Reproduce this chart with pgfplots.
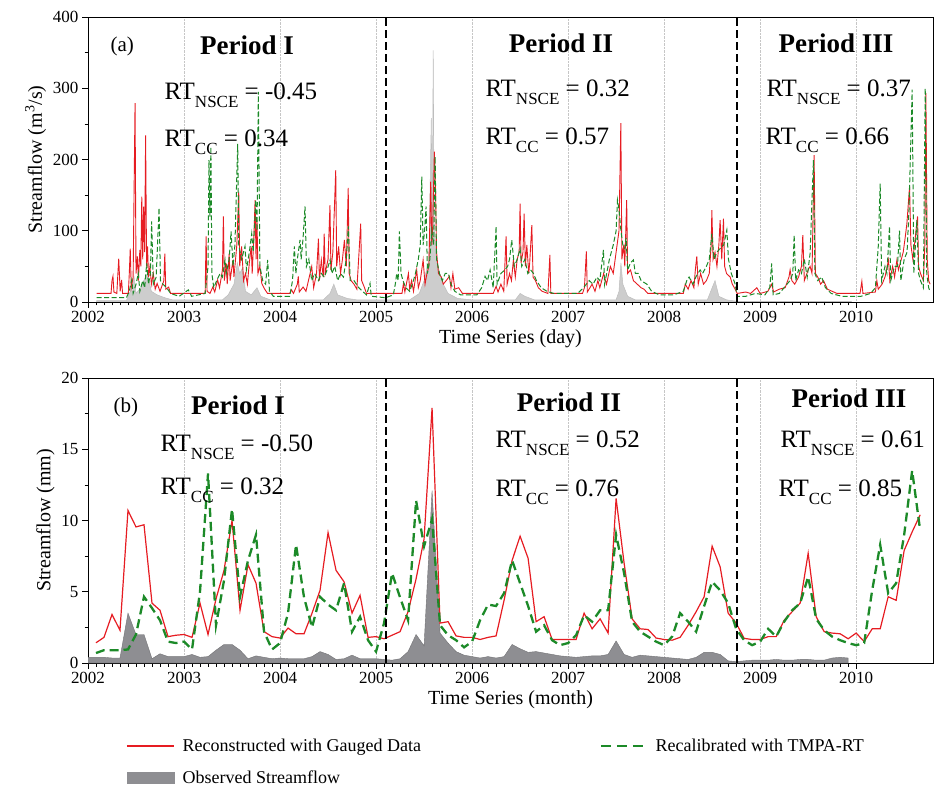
\documentclass[border=0pt]{standalone}
\usepackage{fontspec}
\setmainfont{Liberation Serif}
\usepackage{pgfplots}
\usepackage{pgfplotstable}
\pgfplotsset{compat=1.18}
\definecolor{myred}{RGB}{230,28,34}
\definecolor{mygreen}{RGB}{28,138,40}
\definecolor{obsgray}{RGB}{142,142,146}
\definecolor{lightobs}{RGB}{205,205,205}
\newcommand{\RT}[2]{\fontsize{25}{28}\selectfont RT\raisebox{-8pt}{\fontsize{17}{17}\selectfont #1} = #2}
\newcommand{\Per}[1]{\fontsize{27}{30}\selectfont\bfseries #1}
\pgfplotsset{
  redleg/.style={legend image code/.code={\draw[myred, line width=1.5pt] (0pt,0pt) -- (47pt,0pt);}},
  greenleg/.style={legend image code/.code={\draw[mygreen, line width=1.5pt, dash pattern=on 10pt off 6pt] (0pt,0pt) -- (46pt,0pt);}},
  grayleg/.style={legend image code/.code={\fill[obsgray] (0pt,-5pt) rectangle (47pt,6pt);}},
}

\pgfplotstableread{
k red green
1 1.42 0.7
2 1.8 0.9
3 3.4 0.9
4 2.3 0.9
5 10.7 0.95
6 9.55 2.0
7 9.7 4.65
8 4.2 3.85
9 3.7 3.0
10 1.85 1.5
11 1.95 1.4
12 2.0 1.5
13 1.8 0.95
14 4.2 5.0
15 2.0 13.3
16 4.5 2.65
17 6.5 5.8
18 10.0 10.8
19 3.7 4.65
20 6.9 7.2
21 5.6 9.0
22 2.2 2.2
23 1.85 0.95
24 1.75 1.4
25 2.45 3.5
26 2.05 8.3
27 2.05 4.6
28 3.5 2.5
29 5.1 4.65
30 9.15 4.1
31 6.5 3.7
32 5.7 5.6
33 3.5 2.2
34 4.75 3.25
35 1.8 1.6
36 1.85 0.8
37 1.7 2.8
38 1.95 6.3
39 2.2 4.6
40 3.6 3.0
41 5.9 11.4
42 8.7 8.2
43 17.9 10.1
44 2.8 2.65
45 2.9 1.95
46 1.9 1.6
47 1.8 1.1
48 1.8 1.5
49 1.65 3.0
50 1.8 4.1
51 1.9 4.0
52 4.4 4.9
53 7.2 7.2
54 8.9 5.6
55 7.35 4.0
56 2.9 2.2
57 3.25 2.65
58 1.65 1.6
59 1.65 1.25
60 1.65 1.4
61 1.65 1.95
62 3.5 3.35
63 2.4 2.9
64 3.1 3.7
65 2.1 3.7
66 11.55 9.0
67 7.0 6.3
68 3.1 2.9
69 2.4 2.2
70 2.35 1.85
71 1.75 1.5
72 1.65 1.25
73 1.6 1.85
74 1.8 3.5
75 2.65 2.9
76 3.6 2.2
77 4.65 4.0
78 8.2 5.7
79 6.75 5.1
80 3.5 4.2
81 2.8 2.4
82 1.73 1.6
83 1.65 1.25
84 1.65 1.5
85 1.85 2.4
86 1.85 1.85
87 3.0 2.9
88 3.6 3.7
89 4.2 4.2
90 7.7 6.05
91 3.25 3.1
92 2.2 2.3
93 2.1 1.85
94 2.05 1.6
95 1.7 1.4
96 2.1 1.25
97 1.5 1.4
98 2.4 5.1
99 2.4 8.3
100 4.65 4.9
101 4.4 5.6
102 7.9 9.0
103 9.2 13.5
104 10.4 9.3
}\monthly

\pgfplotstableread{
k obs
0 0.4
1 0.4
2 0.4
3 0.35
4 0.35
5 3.5
6 2.0
7 2.0
8 0.3
9 0.65
10 0.45
11 0.45
12 0.45
13 0.6
14 0.4
15 0.45
16 0.9
17 1.3
18 1.3
19 0.9
20 0.3
21 0.5
22 0.4
23 0.3
24 0.35
25 0.3
26 0.3
27 0.3
28 0.45
29 0.8
30 0.6
31 0.25
32 0.3
33 0.55
34 0.3
35 0.3
36 0.3
37 0.25
38 0.2
39 0.3
40 0.8
41 2.0
42 1.2
43 12.1
44 2.1
45 1.4
46 0.8
47 0.55
48 0.45
49 0.35
50 0.45
51 0.35
52 0.45
53 1.3
54 1.0
55 0.75
56 0.8
57 0.7
58 0.6
59 0.5
60 0.45
61 0.4
62 0.45
63 0.5
64 0.5
65 0.6
66 1.55
67 0.6
68 0.4
69 0.55
70 0.5
71 0.45
72 0.4
73 0.35
74 0.3
75 0.25
76 0.4
77 0.75
78 0.75
79 0.6
80 0.15
81 0.1
82 0.15
83 0.2
84 0.2
85 0.2
86 0.25
87 0.2
88 0.2
89 0.25
90 0.25
91 0.2
92 0.2
93 0.35
94 0.4
95 0.35
}\obsmonthly

\begin{document}
\begin{tikzpicture}[x=1pt,y=1pt]
\useasboundingbox (0,0) rectangle (935,788);
\pgfplotsset{
  mystyle/.style={
    scale only axis, width=845pt, height=285pt,
    xmin=2002, xmax=2010.8,
    xtick={2002,2003,2004,2005,2006,2007,2008,2009,2010},
    minor x tick num=11,
    minor y tick num=1,
    tick align=outside,
    tick pos=left,
    major tick length=6pt, minor tick length=3.5pt,
    xmajorgrids, major x grid style={densely dotted, gray!45},
    /pgf/number format/assume math mode=true,
    /pgf/number format/1000 sep={},
    tick label style={font=\fontsize{17}{20}\selectfont},
    label style={font=\fontsize{20}{24}\selectfont},
    axis line style={black, line width=0.8pt},
    every tick/.style={black, line width=0.7pt},
    clip=true,
  },
  vdash/.style={black, line width=2pt, dash pattern=on 8pt off 4pt, forget plot},
}
% ---------------- top panel (a) ----------------
\begin{axis}[mystyle, at={(88pt,486pt)}, anchor=south west,
  ymin=0, ymax=400, ytick={0,100,200,300,400},
  xlabel={Time Series (day)}, ylabel={Streamflow (m\textsuperscript{3}/s)}]
\addplot[draw=lightobs!80!gray, line width=0.5pt, fill=lightobs] coordinates {
(2002.09,2) (2002.40,2) (2002.44,15) (2002.48,35) (2002.50,12) (2002.55,20) (2002.58,30) (2002.62,40) (2002.66,15) (2002.72,10) (2002.80,6) (2002.88,3) (2003.40,3) (2003.46,10) (2003.52,25) (2003.555,55) (2003.58,40) (2003.61,48) (2003.64,15) (2003.70,10) (2003.76,20) (2003.80,8) (2003.90,3) (2004.45,3) (2004.52,12) (2004.56,25) (2004.60,10) (2004.70,5) (2004.80,3) (2005.35,3) (2005.45,12) (2005.50,30) (2005.55,60) (2005.575,258) (2005.585,100) (2005.595,353) (2005.605,110) (2005.63,60) (2005.68,30) (2005.75,12) (2005.85,5) (2006.0,3) (2006.45,3) (2006.50,12) (2006.55,8) (2006.65,3) (2007.50,3) (2007.53,15) (2007.55,55) (2007.57,25) (2007.62,8) (2007.70,3) (2008.45,3) (2008.50,20) (2008.53,30) (2008.57,8) (2008.65,3) (2008.76,1) (2009.95,1)
} \closedcycle;
\addplot[myred, line width=0.9pt] coordinates {
(2002.09,12) (2002.24,12) (2002.25,30) (2002.26,36) (2002.27,14) (2002.30,12) (2002.32,61) (2002.335,15) (2002.35,31) (2002.36,12) (2002.42,12) (2002.43,40) (2002.44,75) (2002.45,20) (2002.47,35) (2002.49,279) (2002.50,40) (2002.515,64) (2002.525,30) (2002.54,73) (2002.55,50) (2002.56,148) (2002.57,60) (2002.58,134) (2002.59,70) (2002.60,234) (2002.61,50) (2002.62,78) (2002.63,35) (2002.645,50) (2002.66,25) (2002.68,40) (2002.70,18) (2002.72,26) (2002.75,15) (2002.79,30) (2002.80,68) (2002.81,18) (2002.84,21) (2002.86,12) (2003.22,12) (2003.23,92) (2003.24,15) (2003.27,12) (2003.30,21) (2003.32,14) (2003.35,31) (2003.37,20) (2003.40,45) (2003.41,120) (2003.42,30) (2003.44,54) (2003.45,25) (2003.47,68) (2003.48,30) (2003.51,59) (2003.52,35) (2003.55,80) (2003.57,155) (2003.58,50) (2003.60,78) (2003.62,30) (2003.64,40) (2003.66,25) (2003.68,55) (2003.70,78) (2003.71,40) (2003.73,100) (2003.74,143) (2003.75,60) (2003.76,115) (2003.77,40) (2003.79,50) (2003.81,26) (2003.84,18) (2003.87,12) (2004.10,12) (2004.12,17) (2004.14,12) (2004.18,25) (2004.19,36) (2004.20,14) (2004.24,21) (2004.27,15) (2004.33,50) (2004.35,20) (2004.38,40) (2004.40,89) (2004.41,30) (2004.43,59) (2004.45,35) (2004.46,96) (2004.47,40) (2004.50,60) (2004.52,136) (2004.53,45) (2004.55,70) (2004.58,185) (2004.59,50) (2004.61,78) (2004.63,40) (2004.65,60) (2004.67,87) (2004.69,50) (2004.71,160) (2004.72,40) (2004.74,30) (2004.77,25) (2004.80,18) (2004.84,110) (2004.85,30) (2004.88,20) (2004.90,12)
(2005.27,12) (2005.285,26) (2005.30,14) (2005.337,40) (2005.35,18) (2005.37,30) (2005.39,15) (2005.423,45) (2005.44,20) (2005.46,30) (2005.49,59) (2005.51,25) (2005.53,40) (2005.55,50) (2005.569,169) (2005.58,80) (2005.59,106) (2005.607,211) (2005.62,153) (2005.63,70) (2005.65,40) (2005.68,35) (2005.70,25) (2005.73,30) (2005.764,36) (2005.78,20) (2005.80,40) (2005.82,18) (2005.86,20) (2005.90,12) (2006.22,12) (2006.25,22) (2006.27,14) (2006.30,25) (2006.33,15) (2006.354,92) (2006.365,25) (2006.39,40) (2006.41,30) (2006.43,59) (2006.45,35) (2006.47,60) (2006.49,70) (2006.50,138) (2006.51,55) (2006.53,70) (2006.542,124) (2006.555,50) (2006.57,80) (2006.59,40) (2006.60,55) (2006.622,108) (2006.635,35) (2006.66,30) (2006.69,20) (2006.73,15) (2006.79,12) (2006.81,66) (2006.82,12) (2007.15,12) (2007.17,20) (2007.19,71) (2007.20,14) (2007.25,25) (2007.28,15) (2007.31,30) (2007.33,20) (2007.37,40) (2007.40,25) (2007.44,50) (2007.47,40) (2007.50,70) (2007.53,100) (2007.549,251) (2007.56,60) (2007.58,80) (2007.59,50) (2007.61,143) (2007.62,40) (2007.65,45) (2007.68,30) (2007.72,25) (2007.76,20) (2007.79,18) (2007.83,12)
(2008.20,12) (2008.22,25) (2008.25,18) (2008.28,30) (2008.31,20) (2008.325,45) (2008.34,64) (2008.355,25) (2008.38,40) (2008.41,25) (2008.44,30) (2008.47,40) (2008.49,80) (2008.497,129) (2008.51,60) (2008.53,70) (2008.55,50) (2008.57,80) (2008.583,115) (2008.60,60) (2008.618,117) (2008.63,50) (2008.65,40) (2008.688,35) (2008.71,25) (2008.74,18) (2008.76,12)
(2008.85,14) (2008.90,12) (2008.965,20) (2009.0,12) (2009.08,15) (2009.12,25) (2009.14,14) (2009.20,18) (2009.26,20) (2009.30,35) (2009.312,45) (2009.33,30) (2009.36,25) (2009.40,35) (2009.43,50) (2009.444,94) (2009.46,30) (2009.50,45) (2009.52,50) (2009.54,40) (2009.562,206) (2009.575,40) (2009.60,35) (2009.63,25) (2009.66,30) (2009.70,18) (2009.75,15) (2009.80,12) (2010.04,12) (2010.059,29) (2010.07,12) (2010.20,14) (2010.215,30) (2010.23,18) (2010.27,25) (2010.30,35) (2010.337,59) (2010.35,30) (2010.38,50) (2010.40,35) (2010.424,59) (2010.44,45) (2010.47,60) (2010.49,70) (2010.51,90) (2010.528,110) (2010.556,162) (2010.57,80) (2010.59,60) (2010.615,90) (2010.639,120) (2010.65,50) (2010.67,40) (2010.70,30) (2010.715,80) (2010.726,293) (2010.74,60) (2010.755,30) (2010.77,25)
};
\addplot[mygreen, line width=1.0pt, dash pattern=on 5pt off 2.5pt] coordinates {
(2002.09,6) (2002.40,6) (2002.43,15) (2002.455,31) (2002.47,12) (2002.50,25) (2002.524,40) (2002.54,15) (2002.57,30) (2002.59,20) (2002.611,54) (2002.63,25) (2002.65,40) (2002.663,113) (2002.68,25) (2002.71,35) (2002.74,132) (2002.755,30) (2002.78,25) (2002.82,20) (2002.86,12) (2002.95,8) (2003.045,17) (2003.08,8) (2003.15,10) (2003.22,12) (2003.25,50) (2003.26,199) (2003.27,120) (2003.28,218) (2003.29,40) (2003.31,20) (2003.34,30) (2003.375,40) (2003.40,35) (2003.427,59) (2003.44,40) (2003.47,60) (2003.49,99) (2003.51,50) (2003.53,80) (2003.559,222) (2003.57,80) (2003.60,60) (2003.635,78) (2003.65,45) (2003.68,70) (2003.705,96) (2003.72,70) (2003.747,143) (2003.76,100) (2003.774,295) (2003.79,50) (2003.82,30) (2003.85,25) (2003.871,59) (2003.89,15) (2003.93,8) (2004.10,8) (2004.13,30) (2004.149,78) (2004.165,40) (2004.18,60) (2004.208,87) (2004.22,60) (2004.24,90) (2004.26,134) (2004.275,50) (2004.30,60) (2004.33,30) (2004.36,40) (2004.399,30) (2004.43,40) (2004.46,35) (2004.49,45) (2004.521,59) (2004.54,40) (2004.57,50) (2004.60,30) (2004.63,40) (2004.66,35) (2004.69,60) (2004.712,106) (2004.73,30) (2004.77,30) (2004.82,20) (2004.86,15) (2004.90,10) (2004.937,26) (2004.95,8) (2005.1,6)
(2005.18,10) (2005.20,25) (2005.215,40) (2005.23,30) (2005.243,99) (2005.26,40) (2005.28,30) (2005.31,20) (2005.35,15) (2005.389,30) (2005.41,40) (2005.44,60) (2005.46,80) (2005.476,176) (2005.49,80) (2005.505,100) (2005.521,134) (2005.535,40) (2005.56,60) (2005.58,100) (2005.60,80) (2005.615,204) (2005.63,60) (2005.66,40) (2005.69,30) (2005.72,40) (2005.753,40) (2005.78,25) (2005.82,15) (2005.88,10) (2006.05,10) (2006.10,20) (2006.135,36) (2006.16,30) (2006.188,45) (2006.22,20) (2006.25,106) (2006.26,25) (2006.30,40) (2006.34,45) (2006.37,50) (2006.39,60) (2006.413,87) (2006.44,50) (2006.47,60) (2006.50,75) (2006.517,50) (2006.55,60) (2006.58,40) (2006.61,45) (2006.639,40) (2006.67,30) (2006.72,20) (2006.78,15) (2006.85,12) (2007.10,12) (2007.16,20) (2007.22,30) (2007.26,25) (2007.30,35) (2007.33,30) (2007.368,73) (2007.38,25) (2007.43,60) (2007.47,80) (2007.50,100) (2007.514,143) (2007.53,130) (2007.55,100) (2007.57,80) (2007.59,75) (2007.604,90) (2007.62,45) (2007.65,55) (2007.68,59) (2007.70,40) (2007.73,40) (2007.76,30) (2007.82,25) (2007.87,15) (2007.95,10)
(2008.10,10) (2008.20,15) (2008.236,30) (2008.26,35) (2008.30,25) (2008.33,35) (2008.375,45) (2008.40,40) (2008.44,50) (2008.47,60) (2008.497,96) (2008.52,60) (2008.55,70) (2008.583,75) (2008.62,80) (2008.653,101) (2008.67,60) (2008.70,40) (2008.74,25) (2008.76,8)
(2008.85,8) (2008.95,12) (2009.05,10) (2009.10,20) (2009.12,54) (2009.135,10) (2009.20,12) (2009.28,25) (2009.31,30) (2009.34,40) (2009.354,94) (2009.37,30) (2009.40,45) (2009.43,40) (2009.46,60) (2009.49,35) (2009.52,68) (2009.555,199) (2009.57,40) (2009.60,30) (2009.64,35) (2009.68,20) (2009.74,12) (2009.85,8) (2010.05,8) (2010.15,12) (2010.20,20) (2010.23,78) (2010.25,166) (2010.265,30) (2010.30,50) (2010.32,40) (2010.347,106) (2010.36,30) (2010.40,50) (2010.43,50) (2010.451,100) (2010.465,30) (2010.50,60) (2010.53,70) (2010.55,129) (2010.583,298) (2010.60,40) (2010.632,115) (2010.65,40) (2010.67,30) (2010.70,20) (2010.719,300) (2010.735,40) (2010.755,20) (2010.77,15)
};
\addplot[vdash] coordinates {(2005.1,0) (2005.1,400)};
\addplot[vdash] coordinates {(2008.76,0) (2008.76,400)};
\end{axis}

% ---------------- bottom panel (b) ----------------
\begin{axis}[mystyle, at={(88pt,125pt)}, anchor=south west,
  ymin=0, ymax=20, ytick={0,5,10,15,20},
  xlabel={Time Series (month)}, ylabel={Streamflow (mm)},
  legend columns=2, legend cell align=left,
  legend style={at={(axis description cs:0.045,-0.262)}, anchor=north west,
    draw=none, fill=none, inner sep=0pt,
    nodes={inner ysep=1pt},
    font=\fontsize{18}{21}\selectfont,
    /tikz/every odd column/.append style={column sep=6pt},
    /tikz/every even column/.append style={column sep=177pt},
    row sep=16pt}]
\addplot[draw=obsgray!80!black, line width=0.4pt, fill=obsgray, forget plot]
  table[x expr=2002+\thisrow{k}/12, y=obs] {\obsmonthly} \closedcycle;
\addplot[myred, line width=1.2pt, forget plot]
  table[x expr=2002+\thisrow{k}/12, y=red] {\monthly};
\addplot[mygreen, line width=2.3pt, dash pattern=on 9pt off 5pt, forget plot]
  table[x expr=2002+\thisrow{k}/12, y=green] {\monthly};
\addplot[vdash] coordinates {(2005.1,0) (2005.1,20)};
\addplot[vdash] coordinates {(2008.76,0) (2008.76,20)};
\addlegendimage{redleg}
\addlegendentry{Reconstructed with Gauged Data}
\addlegendimage{greenleg}
\addlegendentry{Recalibrated with TMPA-RT}
\addlegendimage{grayleg}
\addlegendentry{Observed Streamflow}
\end{axis}

% ---------------- annotations ----------------
\node[anchor=base west, font=\fontsize{21}{24}\selectfont] at (107pt,736pt) {(a)};
\node[anchor=base] at (247pt,733pt) {\Per{Period I}};
\node[anchor=base west] at (161pt,688pt) {\RT{NSCE}{-0.45}};
\node[anchor=base west] at (161pt,641pt) {\RT{CC}{0.34}};
\node[anchor=base] at (561pt,735pt) {\Per{Period II}};
\node[anchor=base west] at (482pt,691pt) {\RT{NSCE}{0.32}};
\node[anchor=base west] at (482pt,643pt) {\RT{CC}{0.57}};
\node[anchor=base] at (836pt,735pt) {\Per{Period III}};
\node[anchor=base west] at (763pt,691pt) {\RT{NSCE}{0.37}};
\node[anchor=base west] at (762pt,643pt) {\RT{CC}{0.66}};

\node[anchor=base west, font=\fontsize{21}{24}\selectfont] at (110pt,375pt) {(b)};
\node[anchor=base] at (238pt,373pt) {\Per{Period I}};
\node[anchor=base west] at (157pt,336pt) {\RT{NSCE}{-0.50}};
\node[anchor=base west] at (157pt,293pt) {\RT{CC}{0.32}};
\node[anchor=base] at (569pt,376pt) {\Per{Period II}};
\node[anchor=base west] at (492pt,340pt) {\RT{NSCE}{0.52}};
\node[anchor=base west] at (492pt,291pt) {\RT{CC}{0.76}};
\node[anchor=base] at (849pt,380pt) {\Per{Period III}};
\node[anchor=base west] at (777pt,340pt) {\RT{NSCE}{0.61}};
\node[anchor=base west] at (775pt,291pt) {\RT{CC}{0.85}};
\end{tikzpicture}
\end{document}
